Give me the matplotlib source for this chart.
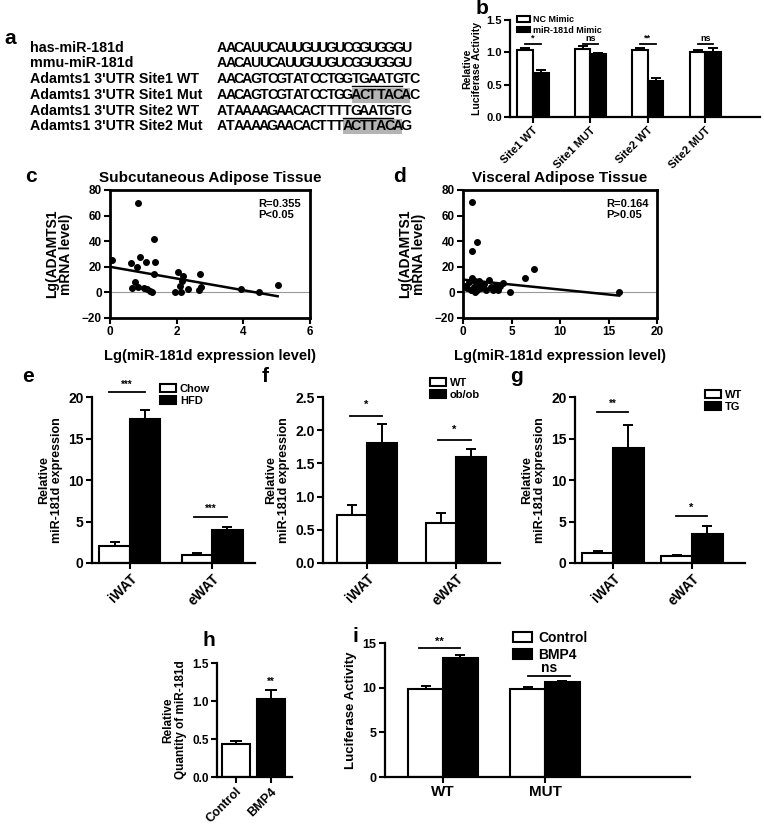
import matplotlib
matplotlib.use("Agg")
import matplotlib.pyplot as plt
from matplotlib.patches import Patch, Rectangle
import numpy as np

plt.rcParams.update({
    "font.family": ["Liberation Sans", "DejaVu Sans"],
    "font.weight": "bold",
    "axes.labelweight": "bold",
    "axes.linewidth": 1.6,
    "xtick.major.width": 1.5,
    "ytick.major.width": 1.5,
    "xtick.major.size": 4,
    "ytick.major.size": 4,
    "xtick.major.pad": 2,
    "ytick.major.pad": 2,
    "font.size": 8.5,
})

# ---- data ----
seq_names = ["has-miR-181d", "mmu-miR-181d", "Adamts1 3'UTR Site1 WT",
             "Adamts1 3'UTR Site1 Mut", "Adamts1 3'UTR Site2 WT", "Adamts1 3'UTR Site2 Mut"]
seqs = ["AACAUUCAUUGUUGUCGGUGGGU", "AACAUUCAUUGUUGUCGGUGGGU", "AACAGTCGTATCCTGGTGAATGTC",
        "AACAGTCGTATCCTGGACTTACAC", "ATAAAAGAACACTTTTGAATGTG", "ATAAAAGAACACTTTACTTACAG"]

b_cats = ["Site1 WT", "Site1 MUT", "Site2 WT", "Site2 MUT"]
b_nc = [1.03, 1.05, 1.04, 1.01]
b_nc_err = [0.04, 0.05, 0.02, 0.02]
b_mir = [0.68, 0.97, 0.56, 1.01]
b_mir_err = [0.05, 0.02, 0.04, 0.05]
b_sig = ["*", "ns", "**", "ns"]

c_x = [0.05, 0.63, 0.81, 0.89, 0.83, 1.08, 1.36, 1.31, 1.31, 0.76, 0.66, 0.83, 1.01, 1.11,
       1.19, 1.26, 2.05, 2.2, 2.17, 2.1, 1.94, 2.12, 2.34, 2.7, 2.73, 2.66, 3.92, 4.47, 5.05]
c_y = [25, 23, 20, 28, 70, 24, 24, 42, 14, 8, 3.5, 4, 3.5, 3, 1, 0.5, 16, 13, 9, 5, 0.5,
       0.5, 2.5, 14, 4, 2, 3, 0.5, 6]
c_fit_x = [0, 5.03]
c_fit_y = [20, -3]

d_x = [0.9, 0.97, 1.4, 6.4, 7.3, 16.1, 4.8, 0.2, 0.6, 0.97, 1.2, 1.1, 1.4, 1.6, 1.9, 2.2,
       2.4, 2.7, 2.9, 3.1, 3.4, 3.6, 3.8, 4.1, 0.4, 0.8, 1.2, 1.6]
d_y = [71, 32, 39, 11, 18.6, 0.5, 0.3, 5, 8, 11, 9, 4, 1.5, 5, 3.5, 6.5, 1.5, 10, 4.5, 1.5,
       6, 1.5, 5, 7, 3.5, 2, 0.2, 9]
d_fit_x = [0, 16.1]
d_fit_y = [10, -2.5]

tissues = ["iWAT", "eWAT"]
e_chow = [2.0, 1.0]
e_chow_err = [0.5, 0.2]
e_hfd = [17.3, 4.0]
e_hfd_err = [1.1, 0.3]

f_wt = [0.72, 0.6]
f_wt_err = [0.15, 0.15]
f_ob = [1.8, 1.6]
f_ob_err = [0.3, 0.12]

g_wt = [1.2, 0.8]
g_wt_err = [0.2, 0.2]
g_tg = [13.8, 3.5]
g_tg_err = [2.8, 1.0]

h_cats = ["Control", "BMP4"]
h_vals = [0.43, 1.03]
h_err = [0.05, 0.12]

i_cats = ["WT", "MUT"]
i_ctrl = [9.9, 9.9]
i_ctrl_err = [0.3, 0.2]
i_bmp = [13.3, 10.6]
i_bmp_err = [0.4, 0.2]

W, H = 764, 827
fig = plt.figure(figsize=(7.64, 8.27), dpi=100)

# overlay in pixel coords for panel a and letters
ov = fig.add_axes([0, 0, 1, 1], zorder=-1)
ov.set_xlim(0, W)
ov.set_ylim(H, 0)
ov.axis("off")


def box(x0, y0, x1, y1):
    return fig.add_axes([x0 / W, 1 - y1 / H, (x1 - x0) / W, (y1 - y0) / H])


def letter(x, y, s):
    ov.text(x, y, s, fontsize=15, fontweight="bold", ha="left", va="center")


def legend(ax, labels, x, y, fs=8, hh=0.7):
    handles = [Patch(facecolor="white", edgecolor="black", lw=1.5),
               Patch(facecolor="black", edgecolor="black", lw=1.5)]
    ax.legend(handles, labels, loc="upper left", bbox_to_anchor=(x / W, 1 - y / H),
              bbox_transform=fig.transFigure, frameon=False, fontsize=fs,
              handlelength=1.4, handleheight=hh, labelspacing=0.2,
              handletextpad=0.4, borderpad=0, borderaxespad=0)


def bars(ax, v1, e1, v2, e2, w, cats, rot=45):
    x = np.arange(len(v1))
    ax.bar(x - w / 2, v1, w, color="white", edgecolor="black", lw=1.5, zorder=2)
    ax.bar(x + w / 2, v2, w, color="black", edgecolor="black", lw=1.5, zorder=2)
    ax.errorbar(x - w / 2, v1, yerr=[np.zeros(len(v1)), e1], fmt="none", ecolor="black",
                elinewidth=1.4, capsize=3.5, capthick=1.4, zorder=1)
    ax.errorbar(x + w / 2, v2, yerr=[np.zeros(len(v2)), e2], fmt="none", ecolor="black",
                elinewidth=1.4, capsize=3.5, capthick=1.4, zorder=1)
    ax.spines[["top", "right"]].set_visible(False)
    ax.set_xticks(x)
    if rot:
        ax.set_xticklabels(cats, rotation=rot, ha="right", rotation_mode="anchor")
    else:
        ax.set_xticklabels(cats)
    return x


def sig(ax, x1, x2, y, txt, ty, fs=7.5):
    ax.plot([x1, x2], [y, y], color="black", lw=1.3, clip_on=False)
    ax.text((x1 + x2) / 2, ty, txt, ha="center", va="bottom", fontsize=fs)


# ---- panel a ----
letter(4, 38, "a")
row_y = [48, 63, 79, 95, 111, 126]
seq_x = 218
pitch = 8.35
for r, (name, s) in enumerate(zip(seq_names, seqs)):
    y = row_y[r]
    ov.text(30, y, name, fontsize=10.3, ha="left", va="center")
    for k, ch in enumerate(s):
        ov.text(seq_x + pitch * (k + 0.5), y, ch, fontsize=10.3, ha="center", va="center")
for r, (k0, k1) in [(2, (16, 22)), (4, (15, 21))]:
    ov.plot([seq_x + pitch * k0, seq_x + pitch * k1], [row_y[r] + 7, row_y[r] + 7], color="black", lw=1)
for r, (k0, k1) in [(3, (16, 23)), (5, (15, 22))]:
    ov.add_patch(Rectangle((seq_x + pitch * k0, row_y[r] - 7.5), pitch * (k1 - k0), 15,
                           facecolor="#b4b4b4", edgecolor="none", zorder=0))

# ---- panel b ----
letter(476, 9, "b")
ax = box(510, 20, 760, 117)
x = bars(ax, b_nc, b_nc_err, b_mir, b_mir_err, 0.27, b_cats)
ax.set_xlim(-0.4, 3.95)
ax.set_ylim(0, 1.5)
ax.set_yticks([0, 0.5, 1.0, 1.5])
ax.set_yticklabels(["0.0", "0.5", "1.0", "1.5"])
ax.tick_params(labelsize=8)
ax.set_ylabel("Relative\nLuciferase Activity", fontsize=7.6, labelpad=3, linespacing=1.0)
for k, t in enumerate(b_sig):
    sig(ax, x[k] - 0.135, x[k] + 0.135, 1.13, t, 1.145, fs=6.5)
legend(ax, ["NC Mimic", "miR-181d Mimic"], 517, 15, fs=6.5, hh=0.6)

# ---- panel c / d ----
for (x0, x1, lt, title, xs, ys, fx, fy, xlim, xticks, rp) in [
        (110, 310, 25, "Subcutaneous Adipose Tissue", c_x, c_y, c_fit_x, c_fit_y, 6, [0, 2, 4, 6], "R=0.355\nP<0.05"),
        (463, 657, 393, "Visceral Adipose Tissue", d_x, d_y, d_fit_x, d_fit_y, 20, [0, 5, 10, 15, 20], "R=0.164\nP>0.05")]:
    letter(lt, 177, "c" if lt == 25 else "d")
    ax = box(x0, 190, x1, 318)
    ax.axhline(0, color="#999999", lw=0.8, zorder=0)
    ax.scatter(xs, ys, s=16, color="black", zorder=3)
    ax.plot(fx, fy, color="black", lw=1.8, zorder=2)
    ax.set_xlim(0, xlim)
    ax.set_ylim(-20, 80)
    ax.set_xticks(xticks)
    ax.set_yticks([-20, 0, 20, 40, 60, 80])
    for sp in ax.spines.values():
        sp.set_linewidth(2)
    ax.set_title(title, fontsize=11, fontweight="bold", pad=6)
    ax.set_xlabel("Lg(miR-181d expression level)", fontsize=10.5, labelpad=8)
    ax.set_ylabel("Lg(ADAMTS1\nmRNA level)", fontsize=10, labelpad=6, linespacing=1.0)
    ax.text(0.74, 0.93, rp, transform=ax.transAxes, ha="left", va="top", fontsize=8, linespacing=1.1)

# ---- panel e ----
letter(22, 377, "e")
ax = box(92, 397, 255, 563)
x = bars(ax, e_chow, e_chow_err, e_hfd, e_hfd_err, 0.37, tissues)
ax.set_xlim(-0.46, 1.52)
ax.set_ylim(0, 20)
ax.set_yticks([0, 5, 10, 15, 20])
ax.tick_params(labelsize=10)
ax.set_ylabel("Relative\nmiR-181d expression", fontsize=9, labelpad=4, linespacing=1.0)
sig(ax, x[0] - 0.25, x[0] + 0.185, 20.6, "***", 20.9, fs=7)
sig(ax, x[1] - 0.22, x[1] + 0.185, 5.6, "***", 5.9, fs=7)
legend(ax, ["Chow", "HFD"], 160, 384)

# ---- panel f ----
letter(262, 377, "f")
ax = box(323, 397, 500, 563)
x = bars(ax, f_wt, f_wt_err, f_ob, f_ob_err, 0.34, tissues)
ax.set_xlim(-0.5, 1.5)
ax.set_ylim(0, 2.5)
ax.set_yticks([0, 0.5, 1.0, 1.5, 2.0, 2.5])
ax.set_yticklabels(["0.0", "0.5", "1.0", "1.5", "2.0", "2.5"])
ax.tick_params(labelsize=10)
ax.set_ylabel("Relative\nmiR-181d expression", fontsize=9, labelpad=4, linespacing=1.0)
sig(ax, x[0] - 0.2, x[0] + 0.17, 2.22, "*", 2.3, fs=8)
sig(ax, x[1] - 0.2, x[1] + 0.17, 1.85, "*", 1.93, fs=8)
legend(ax, ["WT", "ob/ob"], 430, 378)

# ---- panel g ----
letter(510, 377, "g")
ax = box(575, 397, 745, 563)
x = bars(ax, g_wt, g_wt_err, g_tg, g_tg_err, 0.39, tissues)
ax.set_xlim(-0.48, 1.67)
ax.set_ylim(0, 20)
ax.set_yticks([0, 5, 10, 15, 20])
ax.tick_params(labelsize=10)
ax.set_ylabel("Relative\nmiR-181d expression", fontsize=9, labelpad=4, linespacing=1.0)
sig(ax, x[0] - 0.2, x[0] + 0.19, 18.2, "**", 18.6, fs=7)
sig(ax, x[1] - 0.2, x[1] + 0.19, 5.7, "*", 6.1, fs=8)
legend(ax, ["WT", "TG"], 705, 390)

# ---- panel h ----
letter(203, 641, "h")
ax = box(217, 663, 292, 777)
hx = np.arange(len(h_cats))
ax.bar(hx, h_vals, 0.82, color=["white", "black"], edgecolor="black", lw=1.5, zorder=2)
ax.errorbar(hx, h_vals, yerr=[np.zeros(2), h_err], fmt="none", ecolor="black",
            elinewidth=1.4, capsize=4, capthick=1.4, zorder=1)
ax.spines[["top", "right"]].set_visible(False)
ax.set_xticks(hx)
ax.set_xticklabels(h_cats, rotation=45, ha="right", rotation_mode="anchor", fontsize=9)
ax.set_xlim(-0.54, 1.6)
ax.set_ylim(0, 1.5)
ax.set_yticks([0, 0.5, 1.0, 1.5])
ax.set_yticklabels(["0.0", "0.5", "1.0", "1.5"])
ax.set_ylabel("Relative\nQuantity of miR-181d", fontsize=8.5, labelpad=4, linespacing=1.0)
ax.text(hx[1], 1.19, "**", ha="center", va="bottom", fontsize=7)

# ---- panel i ----
letter(352, 636, "i")
ax = box(385, 643, 690, 777)
x = bars(ax, i_ctrl, i_ctrl_err, i_bmp, i_bmp_err, 0.34, i_cats, rot=0)
ax.set_xlim(-0.57, 2.42)
ax.set_ylim(0, 15)
ax.set_yticks([0, 5, 10, 15])
ax.tick_params(axis="x", labelsize=11)
ax.tick_params(axis="y", labelsize=9)
ax.set_ylabel("Luciferase Activity", fontsize=9.5, labelpad=4)
sig(ax, x[0] - 0.24, x[0] + 0.17, 14.4, "**", 14.6, fs=8)
sig(ax, x[1] - 0.17, x[1] + 0.24, 11.3, "ns", 11.45, fs=10)
legend(ax, ["Control", "BMP4"], 513, 631, fs=10)

fig.savefig("out.png", dpi=100)
